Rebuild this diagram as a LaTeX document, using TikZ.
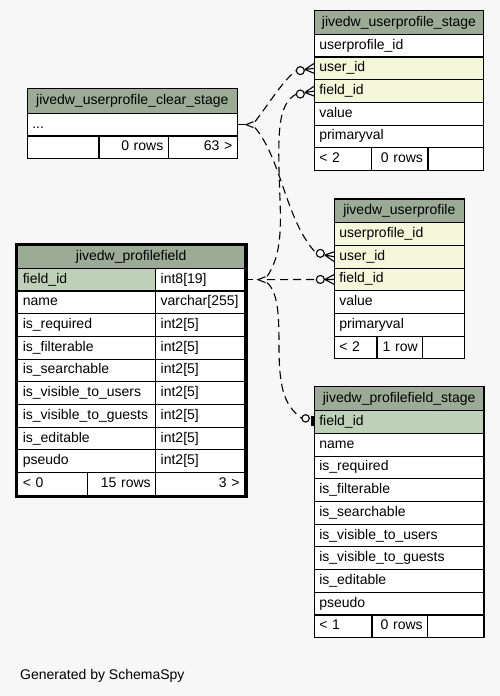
\documentclass[tikz,border=0pt]{standalone}
\usepackage{fontspec}
\setmainfont{Liberation Sans}
\usepackage{tikz}
\usetikzlibrary{calc}
\definecolor{PageGray}{HTML}{F7F7F7}
\definecolor{HeadGreen}{HTML}{9BAB96}
\definecolor{KeyGreen}{HTML}{BED1B8}
\definecolor{IdxYellow}{HTML}{F4F7DA}

\tikzset{
	tbl/.style={draw=black, line width=1.1pt, fill=white, anchor=north west,
		inner xsep=5pt, inner ysep=0pt, outer sep=0pt, minimum height=22.7pt,
		text height=10pt, text depth=3pt, align=left},
	head/.style={tbl, fill=HeadGreen, align=center},
	fkline/.style={line width=1.1pt, dash pattern=on 8pt off 5pt},
	markline/.style={line width=1.1pt}
}

% one cell of a table: [options]{name}{x}{y}{width}{text}
\newcommand{\tblcell}[6][]{%
	\pgfmathsetmacro{\cellw}{#5-10}%
	\node[tbl, text width=\cellw pt, #1] (#2) at ({#3},{#4}) {#6};%
}
% crow's foot with ring at the child end: {row}{name}{ring shift}
\newcommand{\crowodot}[3]{%
	\coordinate (#2) at ($(#1.west)+(-18,#3)$);
	\draw[markline] ($(#1.west)+(-9.5,#3*0.5)$) -- ($(#1.west)+(0,-5)$)
		($(#1.west)+(-9.5,#3*0.5)$) -- (#1.west)
		($(#1.west)+(-9.5,#3*0.5)$) -- ($(#1.west)+(0,5)$);
	\draw[markline, fill=PageGray] ($(#1.west)+(-14,#3)$) circle (4pt);
}
% bar with ring at the child end
\newcommand{\teeodot}[3]{%
	\coordinate (#2) at ($(#1.west)+(-12.5,#3)$);
	\draw[line width=2.6pt] ($(#1.west)+(-2,-6)$) -- ($(#1.west)+(-2,4)$);
	\draw[markline, fill=PageGray] ($(#1.west)+(-8.7,#3)$) circle (3.7pt);
}
% open vee at the parent end: {row}{name}{gap}
\newcommand{\veemark}[3]{%
	\coordinate (#2) at ($(#1.east)+(#3,0)$);
	\coordinate (#2a) at ($(#2)+(9,-3)$);
	\coordinate (#2m) at ($(#2)+(9,0)$);
	\coordinate (#2b) at ($(#2)+(9,3)$);
	\draw[fkline] (#1.east) -- (#2);
	\draw[markline] ($(#2)+(7.5,-3)$) -- (#2) -- ($(#2)+(7.5,3)$);
}

\begin{document}
\begin{tikzpicture}[x=1pt, y=-1pt, font=\fontsize{14}{17}\selectfont]
	\fill[PageGray] (0,0) rectangle (500,696);
	\useasboundingbox (0,0) rectangle (500,696);
	
	% jivedw_userprofile_stage
	\tblcell[head, minimum height=23.6pt]{ups-h}{314.3}{10.7}{169.4}{jivedw\_userprofile\_stage}
	\foreach \lbl/\clr [count=\i] in {userprofile\_id/white, user\_id/IdxYellow, field\_id/IdxYellow, value/white, primaryval/white}
		\tblcell[fill=\clr]{ups-\i}{314.3}{34.3+(\i-1)*22.7}{169.4}{\lbl};
	\tblcell{ups-f1}{314.3}{147.8}{57.4}{< 2}
	\tblcell[align=right]{ups-f2}{371.7}{147.8}{56.3}{0 rows}
	\tblcell{ups-f3}{428}{147.8}{55.7}{}
	
	% jivedw_userprofile_clear_stage
	\tblcell[head, minimum height=25pt]{cs-h}{27.3}{88.3}{210}{jivedw\_userprofile\_clear\_stage}
	\tblcell{cs-1}{27.3}{113.3}{210}{...}
	\tblcell{cs-f1}{27.3}{136}{71.7}{}
	\tblcell[align=right]{cs-f2}{99}{136}{69.3}{0 rows}
	\tblcell[align=right]{cs-f3}{168.3}{136}{69}{63 >}
	
	% jivedw_profilefield (the focus table, thick frame)
	\tblcell[head, minimum height=22.8pt]{pf-h}{17.8}{245.5}{226.7}{jivedw\_profilefield}
	\foreach \lbl/\typ/\clr [count=\i] in {field\_id/int8[19]/KeyGreen, name/varchar[255]/white,
		is\_required/int2[5]/white, is\_filterable/int2[5]/white, is\_searchable/int2[5]/white,
		is\_visible\_to\_users/int2[5]/white, is\_visible\_to\_guests/int2[5]/white,
		is\_editable/int2[5]/white, pseudo/int2[5]/white} {
		\tblcell[fill=\clr]{pf-n\i}{17.8}{268.3+(\i-1)*22.7}{137.9}{\lbl}
		\tblcell{pf-t\i}{155.7}{268.3+(\i-1)*22.7}{88.8}{\typ}
	}
	\tblcell{pf-f1}{17.8}{472.6}{69.9}{< 0}
	\tblcell[align=right]{pf-f2}{87.7}{472.6}{68}{15 rows}
	\tblcell[align=right]{pf-f3}{155.7}{472.6}{88.8}{3 >}
	\draw[line width=3pt] (16.3,244.5) rectangle (246,496.8);
	
	% jivedw_userprofile
	\tblcell[head, minimum height=23.7pt]{up-h}{334.3}{199}{130}{jivedw\_userprofile}
	\foreach \lbl/\clr [count=\i] in {userprofile\_id/IdxYellow, user\_id/IdxYellow, field\_id/IdxYellow, value/white, primaryval/white}
		\tblcell[fill=\clr]{up-\i}{334.3}{222.7+(\i-1)*22.7}{130}{\lbl};
	\tblcell{up-f1}{334.3}{336.2}{42.7}{< 2}
	\tblcell[align=right]{up-f2}{377}{336.2}{45.7}{1 row}
	\tblcell{up-f3}{422.7}{336.2}{41.6}{}
	
	% jivedw_profilefield_stage
	\tblcell[head, minimum height=24pt]{pfs-h}{314.3}{386.7}{169.7}{jivedw\_profilefield\_stage}
	\foreach \lbl/\clr [count=\i] in {field\_id/KeyGreen, name/white, is\_required/white,
		is\_filterable/white, is\_searchable/white, is\_visible\_to\_users/white,
		is\_visible\_to\_guests/white, is\_editable/white, pseudo/white}
		\tblcell[fill=\clr]{pfs-\i}{314.3}{410.7+(\i-1)*22.7}{169.7}{\lbl};
	\tblcell{pfs-f1}{314.3}{615}{57.7}{< 1}
	\tblcell[align=right]{pfs-f2}{372}{615}{55.7}{0 rows}
	\tblcell{pfs-f3}{427.7}{615}{56.3}{}
	
	% ends of the relations
	\veemark{cs-1}{csv}{8.7}
	\veemark{pf-t1}{pfv}{13.5}
	\crowodot{ups-2}{ups2o}{2.3}
	\crowodot{ups-3}{ups3o}{3}
	\crowodot{up-2}{up2o}{-3.4}
	\crowodot{up-3}{up3o}{0}
	\teeodot{pfs-1}{pfs1o}{-3.7}
	
	% implied relations, dashed
	\draw[fkline] (csva) .. controls +(14,-18) and +(-12,8) .. (ups2o);
	\draw[fkline] (csvb) .. controls +(27,32) and +(-31,-33) .. (up2o);
	\draw[fkline] (ups3o) .. controls (280,103) and (278,125) .. (279,170)
		.. controls (280,215) and (285,250) .. (pfva);
	\draw[fkline] (pfvm) -- (up3o);
	\draw[fkline] (pfvb) .. controls (278,292) and (279,315) .. (279,345)
		.. controls (279,385) and (283,405) .. (pfs1o);
	
	\node[anchor=base west] (credit) at (16.7,679) {Generated by SchemaSpy};
\end{tikzpicture}
\end{document}
